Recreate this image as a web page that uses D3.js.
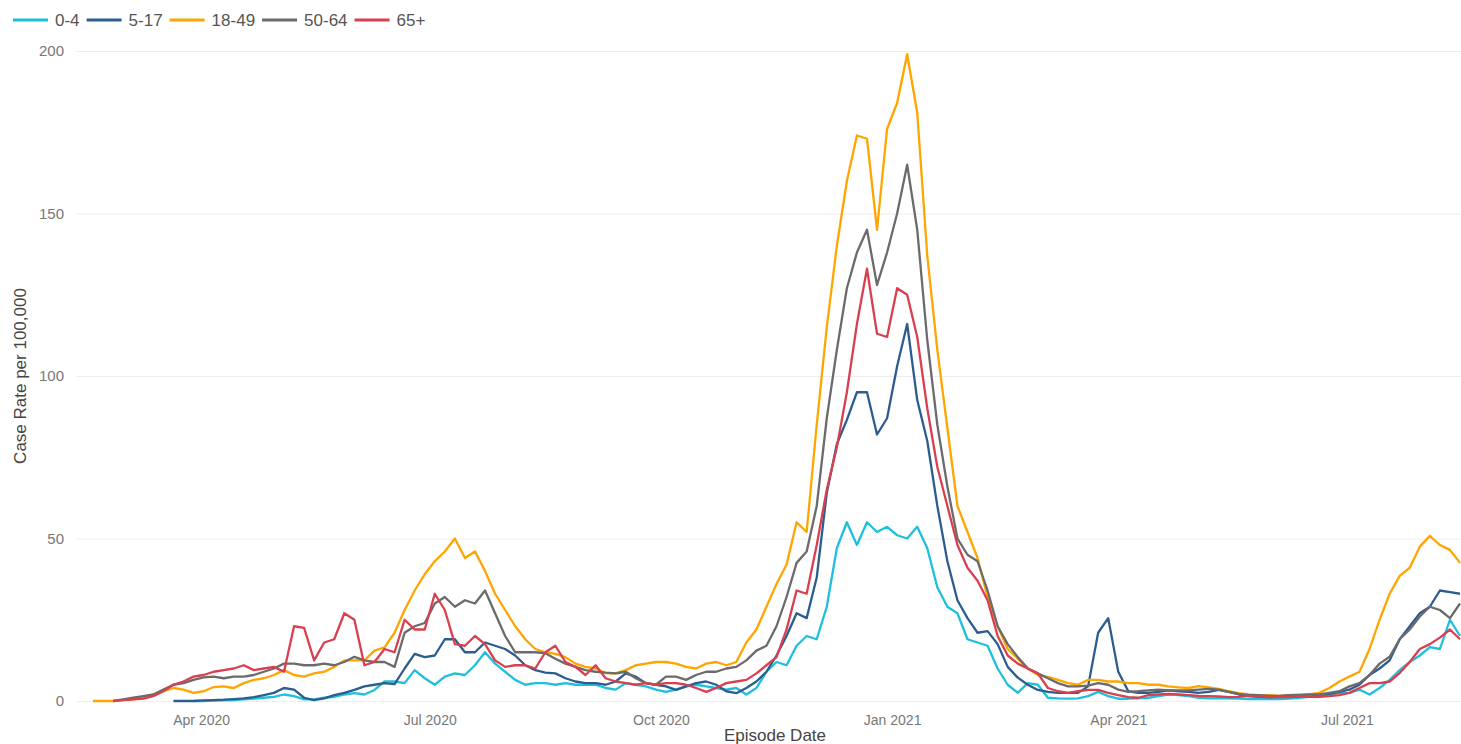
<!DOCTYPE html>
<html>
<head>
<meta charset="utf-8">
<script src="https://cdn.jsdelivr.net/npm/d3@7"></script>
<style>
    body { margin: 0; background: #ffffff; }
    svg { display: block; font-family: "Liberation Sans", Arial, sans-serif; }
</style>
</head>
<body>
<script>
// series names + colours (legend order)
const seriesNames = ['0-4', '5-17', '18-49', '50-64', '65+'];
const seriesColors = ['#1fbfde', '#2c5d8f', '#ffa500', '#6b6b6b', '#d9404f'];

// one reading every 4 days starting on firstDate
const firstDate = '2020-02-18';
const stepDays = 4;

// case rate per 100,000 (null = no data yet)
const rate0to4 = [null, null, null, null, null, null, null, null, null, null,
    0, 0, 0.1, 0.2, 0.3, 0.5, 0.7, 1, 1.3, 2,
    1.5, 0.5, 0.5, 1, 1.3, 2, 2.4, 2, 3.4, 6,
    6, 5.5, 9.5, 7, 5, 7.5, 8.5, 8, 11, 15,
    11.5, 9, 6.5, 5, 5.5, 5.5, 5, 5.5, 5, 5,
    5, 4, 3.5, 5.5, 5, 4.5, 3.5, 2.8, 3.5, 4.5,
    5, 4.5, 4, 3.5, 4, 2, 4, 9, 12, 11,
    17, 20, 19, 29, 47, 55, 48, 55, 52, 53.6,
    51, 50, 53.6, 47, 35, 29, 27, 19, 18, 17,
    10, 5, 2.5, 5.5, 5, 1, 0.8, 0.7, 0.8, 1.5,
    2.8, 1.5, 0.7, 0.7, 0.8, 1, 1.5, 2, 1.8, 1.5,
    1, 0.8, 0.9, 0.8, 0.7, 0.6, 0.6, 0.6, 0.6, 0.7,
    1, 1.3, 1.5, 2, 2.4, 2.5, 3.5, 2, 4, 6.5,
    9.5, 12, 14, 16.6, 16, 25, 20];

const rate5to17 = [null, null, null, null, null, null, null, null, 0, 0,
    0, 0.2, 0.3, 0.4, 0.6, 0.8, 1.2, 1.8, 2.5, 4,
    3.5, 1, 0.3, 0.8, 1.8, 2.5, 3.4, 4.5, 5, 5.5,
    5.2, 10, 14.5, 13.5, 14, 19, 19, 15, 15, 18,
    17, 16, 14, 11, 9.5, 8.7, 8.5, 7, 6, 5.5,
    5.5, 5, 6, 8.5, 7.5, 5.5, 5, 4.5, 3.4, 4.5,
    5.5, 6, 5, 3, 2.4, 4, 6, 9, 14, 20,
    27, 25.5, 38, 64, 79, 86.5, 95, 95, 82, 87,
    103, 116, 92.6, 80, 60, 43, 31, 25.5, 21, 21.5,
    17.5, 10.5, 7.2, 5, 3.4, 2.8, 2.5, 2.5, 2.5, 4.5,
    21, 25.5, 9, 3, 2.5, 2.5, 2.8, 3.3, 3, 2.8,
    2.5, 2.8, 3.4, 2.8, 2, 1.5, 1.3, 1.2, 1.3, 1.3,
    1.5, 1.8, 2, 2.2, 2.8, 3.5, 5, 8, 10, 12.5,
    19, 23, 27, 29, 34, 33.5, 33];

const rate18to49 = [0, 0, 0, 0.3, 0.5, 1, 2, 3, 4, 3.5,
    2.5, 3, 4.3, 4.5, 4, 5.5, 6.5, 7, 8, 9.5,
    8, 7.5, 8.5, 9, 10.5, 12.5, 12.5, 12.5, 15.5, 16.5,
    21, 28, 34, 39, 43, 46, 50, 44, 46, 40,
    33, 28, 23, 19, 16, 15, 14.5, 13.5, 11.5, 10.5,
    10, 8.6, 8.5, 9.5, 11, 11.5, 12, 12, 11.5, 10.5,
    10, 11.5, 12, 11, 12, 18, 22, 29, 36, 42,
    55, 52, 85, 115, 140, 160, 174, 173, 145, 176,
    184, 199, 181, 137, 108, 84, 60, 52, 44, 32,
    23, 16, 13, 10, 8, 7.4, 6.5, 5.5, 5, 6.5,
    6.5, 6, 6, 5.5, 5.5, 5, 5, 4.5, 4.2, 4,
    4.6, 4.2, 3.7, 3, 2.4, 2, 1.8, 1.8, 1.6, 1.8,
    2, 2, 2.5, 4, 6, 7.5, 9, 16, 25, 33,
    38.5, 41, 47.5, 50.8, 48, 46.5, 42.5];

const rate50to64 = [null, null, 0, 0.5, 1, 1.5, 2, 3.5, 5, 5.5,
    6.5, 7.3, 7.5, 7, 7.5, 7.5, 8, 9, 10, 11.5,
    11.5, 11, 11, 11.5, 11, 12, 13.6, 12.5, 12, 12,
    10.5, 21, 23, 24, 30, 32, 29, 31, 30, 34,
    27, 20, 15, 15, 15, 14.7, 13, 11.5, 10.5, 9.5,
    9, 8.7, 8.5, 9, 7, 5.5, 5, 7.5, 7.5, 6.5,
    8, 9, 9, 10, 10.5, 12.5, 15.5, 17, 23, 32,
    42.5, 46, 60, 87, 108, 127, 138, 145, 128, 138,
    150, 165, 145, 111, 85, 66, 50, 45, 43, 34,
    23, 17.5, 13.5, 10, 8.5, 7, 5.5, 4.5, 4.5, 4.7,
    5.5, 5, 3.5, 2.8, 3, 3.3, 3.5, 3.3, 3.3, 3.3,
    3.5, 3.7, 3.5, 2.8, 2.2, 1.8, 1.8, 1.6, 1.6, 1.8,
    1.8, 2, 2, 2.5, 3, 4.5, 5.5, 8, 11.5, 13.6,
    19, 22, 26, 29, 28, 25.5, 30];

const rate65plus = [null, null, 0, 0.3, 0.5, 0.7, 1.5, 3, 5, 6,
    7.5, 8, 9, 9.5, 10, 11, 9.5, 10, 10.5, 9,
    23, 22.5, 12.5, 18, 19, 27, 25, 11, 12, 16,
    15, 25, 22, 22, 33, 28, 17.5, 17, 20, 17.5,
    12.5, 10.5, 11, 11, 10, 15, 17, 12, 10.5, 8,
    11, 7, 6, 5.5, 5, 5.5, 5, 5.5, 5.5, 5,
    4, 2.8, 4, 5.5, 6, 6.5, 8.5, 11, 13.5, 22,
    34, 33, 48, 65, 78, 95, 116, 133, 113, 112,
    127, 125, 112, 90, 72, 60, 48, 41, 37, 31,
    20, 14, 11.5, 10, 8.5, 4, 3, 2.5, 3, 3.4,
    3.4, 2.5, 1.8, 1.2, 1, 1.8, 2, 2.2, 2, 1.8,
    1.6, 1.5, 1.4, 1.2, 1.3, 1.6, 1.4, 1.2, 1.3, 1.2,
    1.4, 1.3, 1.3, 1.5, 1.8, 2.5, 4, 5.5, 5.5, 6,
    8.6, 12, 16, 17.5, 19.5, 22, 19];

// axis ticks
const xTickDates = ['2020-04-01', '2020-07-01', '2020-10-01', '2021-01-01', '2021-04-01', '2021-07-01'];
const xTickLabels = ['Apr 2020', 'Jul 2020', 'Oct 2020', 'Jan 2021', 'Apr 2021', 'Jul 2021'];
const yTicks = [0, 50, 100, 150, 200];

class CaseChart {
    constructor() {
        this.width = 1461;
        this.height = 744;
        this.svg = this.createCanvas();
        this.parse = d3.utcParse('%Y-%m-%d');
        this.dates = this.buildDates();
        this.x = d3.scaleUtc()
            .domain([this.parse('2020-02-16'), this.parse('2021-08-15')])
            .range([88, 1460]);
        this.y = d3.scaleLinear().domain([0, 200]).range([701, 51]);
    }

    createCanvas() {
        return d3.select('body').append('svg')
            .attr('width', this.width)
            .attr('height', this.height);
    }

    buildDates() {
        // dates of the readings (same for every series)
        let start = this.parse(firstDate);
        return rate18to49.map((v, i) => d3.utcDay.offset(start, i * stepDays));
    }

    drawGrid() {
        let yAxis = d3.axisLeft(this.y)
            .tickValues(yTicks)
            .tickSize(-(this.width - 76))
            .tickPadding(12);

        let g = this.svg.append('g')
            .attr('transform', 'translate(76,0)')
            .call(yAxis);
        g.select('.domain').remove();
        g.selectAll('.tick line').attr('stroke', '#eeeeee').attr('stroke-width', 1);
        g.selectAll('.tick text')
            .attr('fill', '#777777')
            .style('font-size', '15px')
            .style('font-family', '"Liberation Sans", Arial, sans-serif');
    }

    drawXAxis() {
        let xAxis = d3.axisBottom(this.x)
            .tickValues(xTickDates.map(d => this.parse(d)))
            .tickFormat((d, i) => xTickLabels[i])
            .tickSize(0)
            .tickPadding(14);

        let g = this.svg.append('g')
            .attr('transform', 'translate(0,701)')
            .call(xAxis);
        g.select('.domain').remove();
        g.selectAll('.tick text')
            .attr('fill', '#777777')
            .style('font-size', '14px')
            .style('font-family', '"Liberation Sans", Arial, sans-serif');
    }

    drawTitles() {
        this.svg.append('text')
            .attr('x', 775)
            .attr('y', 741)
            .attr('text-anchor', 'middle')
            .attr('fill', '#444444')
            .style('font-size', '17px')
            .text('Episode Date');

        this.svg.append('text')
            .attr('transform', 'translate(26,376) rotate(-90)')
            .attr('text-anchor', 'middle')
            .attr('fill', '#444444')
            .style('font-size', '17px')
            .text('Case Rate per 100,000');
    }

    drawLines() {
        let allSeries = [rate0to4, rate5to17, rate18to49, rate50to64, rate65plus];
        let line = d3.line()
            .defined(d => d != null)
            .x((d, i) => this.x(this.dates[i]))
            .y(d => this.y(d));

        this.svg.append('g')
            .selectAll('path')
            .data(allSeries)
            .join('path')
            .attr('d', d => line(d))
            .attr('fill', 'none')
            .attr('stroke', (d, i) => seriesColors[i])
            .attr('stroke-width', 2.3)
            .attr('stroke-linejoin', 'round');
    }

    drawLegend() {
        let legend = this.svg.append('g');
        let x = 13;
        seriesNames.forEach((name, i) => {
            legend.append('line')
                .attr('x1', x).attr('x2', x + 35)
                .attr('y1', 20).attr('y2', 20)
                .attr('stroke', seriesColors[i])
                .attr('stroke-width', 3);
            let label = legend.append('text')
                .attr('x', x + 42)
                .attr('y', 26)
                .attr('fill', '#555555')
                .style('font-size', '17px')
                .text(name);
            // next item starts after this label
            x = x + 42 + label.node().getComputedTextLength() + 7;
        });
    }
}

let chart = new CaseChart();
chart.drawGrid();
chart.drawXAxis();
chart.drawTitles();
chart.drawLines();
chart.drawLegend();
</script>
</body>
</html>
